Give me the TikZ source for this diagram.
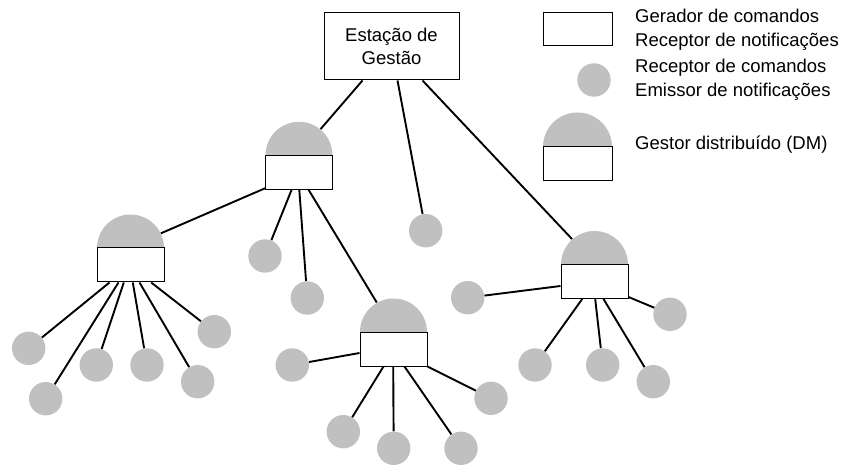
\documentclass[tikz,border=0pt]{standalone}
\usepackage{fontspec}
\setmainfont{Liberation Sans}
\usetikzlibrary{calc,backgrounds}
\definecolor{dmgray}{HTML}{C0C0C0}
\tikzset{
 leaf/.style={circle,fill=dmgray,minimum size=33.4pt,inner sep=0pt},
 dmbox/.style={draw,line width=1pt,fill=white,minimum width=67pt,minimum height=34pt,inner sep=0pt},
 link/.style={line width=1.9pt},
 lbl/.style={font=\fontsize{18.5}{24}\selectfont,align=left,anchor=west,inner sep=0pt},
}
\newcommand\dmnode[3]{%
  \fill[dmgray] (#2-33.5,#3-17) arc[start angle=180,end angle=0,radius=33.5pt] -- cycle;
  \node[dmbox] (#1) at (#2,#3) {};}
\begin{document}
\begin{tikzpicture}[x=1pt,y=-1pt]
\useasboundingbox (0,0) rectangle (844,465);
% management station
\node[draw,line width=1pt,minimum width=135pt,minimum height=67pt,inner sep=0pt,align=center,
      font=\fontsize{18.5}{23}\selectfont] (st) at (391.5,46.5) {Estação de\\Gestão};
% distributed managers
\dmnode{d1}{299}{172.3}
\dmnode{d2}{130.5}{265}
\dmnode{d3}{594.5}{281.5}
\dmnode{d4}{393.5}{349}
% leaves
\node[leaf] (c21) at (28.7,348.3) {};
\node[leaf] (c22) at (45.7,398.7) {};
\node[leaf] (c23) at (96.3,365) {};
\node[leaf] (c24) at (147,365) {};
\node[leaf] (c25) at (197.7,381.7) {};
\node[leaf] (c26) at (214.3,331.7) {};
\node[leaf] (c11) at (265,256) {};
\node[leaf] (c12) at (307.3,298) {};
\node[leaf] (c0) at (425.7,230.7) {};
\node[leaf] (c31) at (467.7,297.7) {};
\node[leaf] (c32) at (670,314.3) {};
\node[leaf] (c33) at (535,365) {};
\node[leaf] (c34) at (602.7,365) {};
\node[leaf] (c35) at (653.3,381.7) {};
\node[leaf] (c41) at (292.3,365) {};
\node[leaf] (c42) at (491,398.3) {};
\node[leaf] (c43) at (343.3,431.7) {};
\node[leaf] (c44) at (393.7,448.3) {};
\node[leaf] (c45) at (461,448.3) {};
% legend
\node[dmbox,minimum width=69pt,minimum height=33pt] (lg1) at (577.5,29.5) {};
\node[leaf] (lg2) at (594,80) {};
\fill[dmgray] (543,147) arc[start angle=180,end angle=0,radius=34.5pt] -- cycle;
\node[dmbox,minimum width=69pt,minimum height=34pt] (lg3) at (577.5,164) {};
\node[lbl] (t1) at (635,30) {Gerador de comandos\\Receptor de notificações};
\node[lbl] (t2) at (635,80) {Receptor de comandos\\Emissor de notificações};
\node[lbl] (t3) at (635,145) {Gestor distribuído (DM)};
% connectors
\begin{pgfonlayer}{background}
\draw[link] ([xshift=39pt]st.south west) -- ($(d1.north)+(50:33.5pt)$);
\draw[link] ([xshift=74pt]st.south west) -- (c0);
\draw[link] ([xshift=99pt]st.south west) -- ($(d3.north)+(132:33.5pt)$);
\draw[link] ($(d2.north)+(25:33.5pt)$) -- ([yshift=1.5pt]d1.south west);
\draw[link] ([xshift=26.6pt]d1.south west) -- (c11);
\draw[link] ([xshift=34.3pt]d1.south west) -- (c12);
\draw[link] ([xshift=43.6pt]d1.south west) -- ($(d4.north)+(120:33.5pt)$);
\draw[link] ([xshift=13pt]d2.south west) -- (c21);
\draw[link] ([xshift=22pt]d2.south west) -- (c22);
\draw[link] ([xshift=27.3pt]d2.south west) -- (c23);
\draw[link] ([xshift=36.3pt]d2.south west) -- (c24);
\draw[link] ([xshift=43pt]d2.south west) -- (c25);
\draw[link] ([xshift=54.7pt]d2.south west) -- (c26);
\draw[link] ([yshift=-4.5pt]d3.west) -- (c31);
\draw[link] ([yshift=2pt]d3.south east) -- (c32);
\draw[link] ([xshift=21.7pt]d3.south west) -- (c33);
\draw[link] ([xshift=34.7pt]d3.south west) -- (c34);
\draw[link] ([xshift=43pt]d3.south west) -- (c35);
\draw[link] ([yshift=-4pt]d4.west) -- (c41);
\draw[link] (d4.south east) -- (c42);
\draw[link] ([xshift=24pt]d4.south west) -- (c43);
\draw[link] ([xshift=33.7pt]d4.south west) -- (c44);
\draw[link] ([xshift=45pt]d4.south west) -- (c45);
\end{pgfonlayer}
\end{tikzpicture}
\end{document}
